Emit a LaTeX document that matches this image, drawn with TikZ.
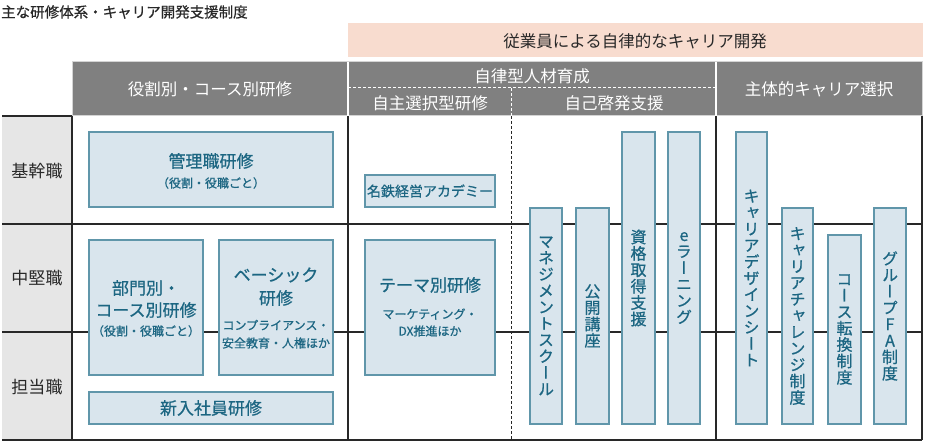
\documentclass[tikz,border=0pt]{standalone}
\usepackage{fontspec}
\setmainfont{Noto Sans CJK JP}
\newfontfamily\medfont[FakeBold=0.7]{Noto Sans CJK JP}
\newfontfamily\tatefont[RawFeature=+vert, FakeBold=0.7]{Noto Sans CJK JP}
\usetikzlibrary{positioning}
\definecolor{custom-pink}{RGB}{248, 220, 207}
\definecolor{custom-gray}{RGB}{128, 128, 128}
\definecolor{custom-light}{RGB}{230, 230, 230}
\definecolor{custom-edge}{RGB}{212, 212, 212}
\definecolor{custom-fill}{RGB}{217, 229, 237}
\definecolor{custom-line}{RGB}{96, 150, 170}
\definecolor{custom-text}{RGB}{28, 102, 130}
\definecolor{custom-ink}{RGB}{40, 40, 40}

\begin{document}
\begin{tikzpicture}[x=1pt, y=-1pt,
    box/.style={fill=custom-fill, draw=custom-line, line width=1.2pt},
    rule/.style={draw=custom-ink, line width=1.4pt},
    dashrule/.style={draw=custom-ink, line width=1pt, dash pattern=on 3pt off 2pt},
    head/.style={text=white, inner sep=0pt, font=\fontsize{16.5}{18}\selectfont},
    rowlabel/.style={text=custom-ink, inner sep=0pt, font=\fontsize{17}{18}\selectfont},
    big/.style={text=custom-text, inner sep=0pt, font=\medfont\fontsize{17}{18}\selectfont},
    small/.style={text=custom-text, inner sep=0pt, font=\medfont\fontsize{12}{14}\selectfont},
    vert/.style={text=custom-text, inner sep=0pt, align=center, font=\tatefont\fontsize{16}{16.4}\selectfont}]
\useasboundingbox (0,0) rectangle (926,446);

% title and top band
\node[anchor=west, text=custom-ink, inner sep=0pt, font=\medfont\fontsize{14.5}{16}\selectfont] (title) at (1,12) {主な研修体系・キャリア開発支援制度};
\fill[custom-pink] (348,23) rectangle (923,57);
\node[text=custom-ink, inner sep=0pt, font=\fontsize{16.5}{18}\selectfont] (band) at (635,41) {従業員による自律的なキャリア開発};

% header
\filldraw[fill=custom-gray, draw=custom-edge, line width=1pt] (72,62) rectangle (922,116);
\draw[white, line width=1.5pt] (348,62) -- (348,116);
\draw[white, line width=1.5pt] (716,62) -- (716,116);
\draw[white, line width=1pt, dash pattern=on 3pt off 2pt] (348,88) -- (716,88);
\draw[white, line width=1pt, dash pattern=on 3pt off 2pt] (511,88) -- (511,116);
\node[head] (hYakuwari) at (210,89) {役割別・コース別研修};
\node[head] (hJiritsu) at (532,76) {自律型人材育成};
\node[head] (hJishu) at (430,103) {自主選択型研修};
\node[head] (hJiko) at (614,103) {自己啓発支援};
\node[head] (hShutai) at (819,89) {主体的キャリア選択};

% grid
\fill[custom-light] (2,116) rectangle (72,440);
\draw[rule] (2,116) -- (72,116);
\draw[rule] (2,224) -- (922,224);
\draw[rule] (2,332) -- (922,332);
\draw[rule] (2,440) -- (922,440);
\foreach \x in {72,348,716,922}
    \draw[rule] (\x,116) -- (\x,440);
\draw[dashrule] (511,116) -- (511,440);
\node[rowlabel] (rKikan) at (37,171) {基幹職};
\node[rowlabel] (rChuken) at (37,278) {中堅職};
\node[rowlabel] (rTanto) at (37,387) {担当職};

% boxes
\filldraw[box] (89,132) rectangle (333,207);
\filldraw[box] (365,175) rectangle (495,207);
\filldraw[box] (89,240) rectangle (203,375);
\filldraw[box] (219,240) rectangle (333,375);
\filldraw[box] (89,392) rectangle (333,424);
\filldraw[box] (365,240) rectangle (495,375);
\filldraw[box] (530,208) rectangle (562,424);
\filldraw[box] (576,208) rectangle (609,424);
\filldraw[box] (622,132) rectangle (655,424);
\filldraw[box] (668,132) rectangle (700,424);
\filldraw[box] (736,132) rectangle (767,424);
\filldraw[box] (782,208) rectangle (813,424);
\filldraw[box] (828,235) rectangle (861,424);
\filldraw[box] (874,208) rectangle (906,424);

% box texts
\node[big] (kanri) at (211,161) {管理職研修};
\node[small] (kanriSub) at (211,183) {（役割・役職ごと）};
\node[text=custom-text, inner sep=0pt, font=\medfont\fontsize{14}{16}\selectfont] (meitetsu) at (430,191) {名鉄経営アカデミー};
\node[big] (bumonA) at (146,288) {部門別・};
\node[big] (bumonB) at (146,310) {コース別研修};
\node[small] (bumonSub) at (146,331) {（役割・役職ごと）};
\node[big] (basicA) at (276,275) {ベーシック};
\node[big] (basicB) at (276,298) {研修};
\node[small] (basicC) at (276,325) {コンプライアンス・};
\node[small] (basicD) at (276,343) {安全教育・人権ほか};
\node[big] (shinnyu) at (211,408) {新入社員研修};
\node[big] (theme) at (430,285) {テーマ別研修};
\node[small] (themeA) at (430,314) {マーケティング・};
\node[small] (themeB) at (430,331) {DX推進ほか};

% vertical texts
\node[vert] (vSchool) at (546,316) {マ\\ネ\\ジ\\メ\\ン\\ト\\ス\\ク\\ー\\ル};
\node[vert] (vKoza) at (592.5,316) {公\\開\\講\\座};
\node[vert] (vShikaku) at (638.5,278) {資\\格\\取\\得\\支\\援};
\node[vert] (vElearn) at (684,278) {e\\ラ\\ー\\ニ\\ン\\グ};
\node[vert] (vDesign) at (751.5,278) {キ\\ャ\\リ\\ア\\デ\\ザ\\イ\\ン\\シ\\ー\\ト};
\node[vert] (vChallenge) at (797.5,316) {キ\\ャ\\リ\\ア\\チ\\ャ\\レ\\ン\\ジ\\制\\度};
\node[vert] (vCourse) at (844.5,329.5) {コ\\ー\\ス\\転\\換\\制\\度};
\node[vert] (vGroupFA) at (890,316) {グ\\ル\\ー\\プ\\F\\A\\制\\度};

\end{tikzpicture}
\end{document}
